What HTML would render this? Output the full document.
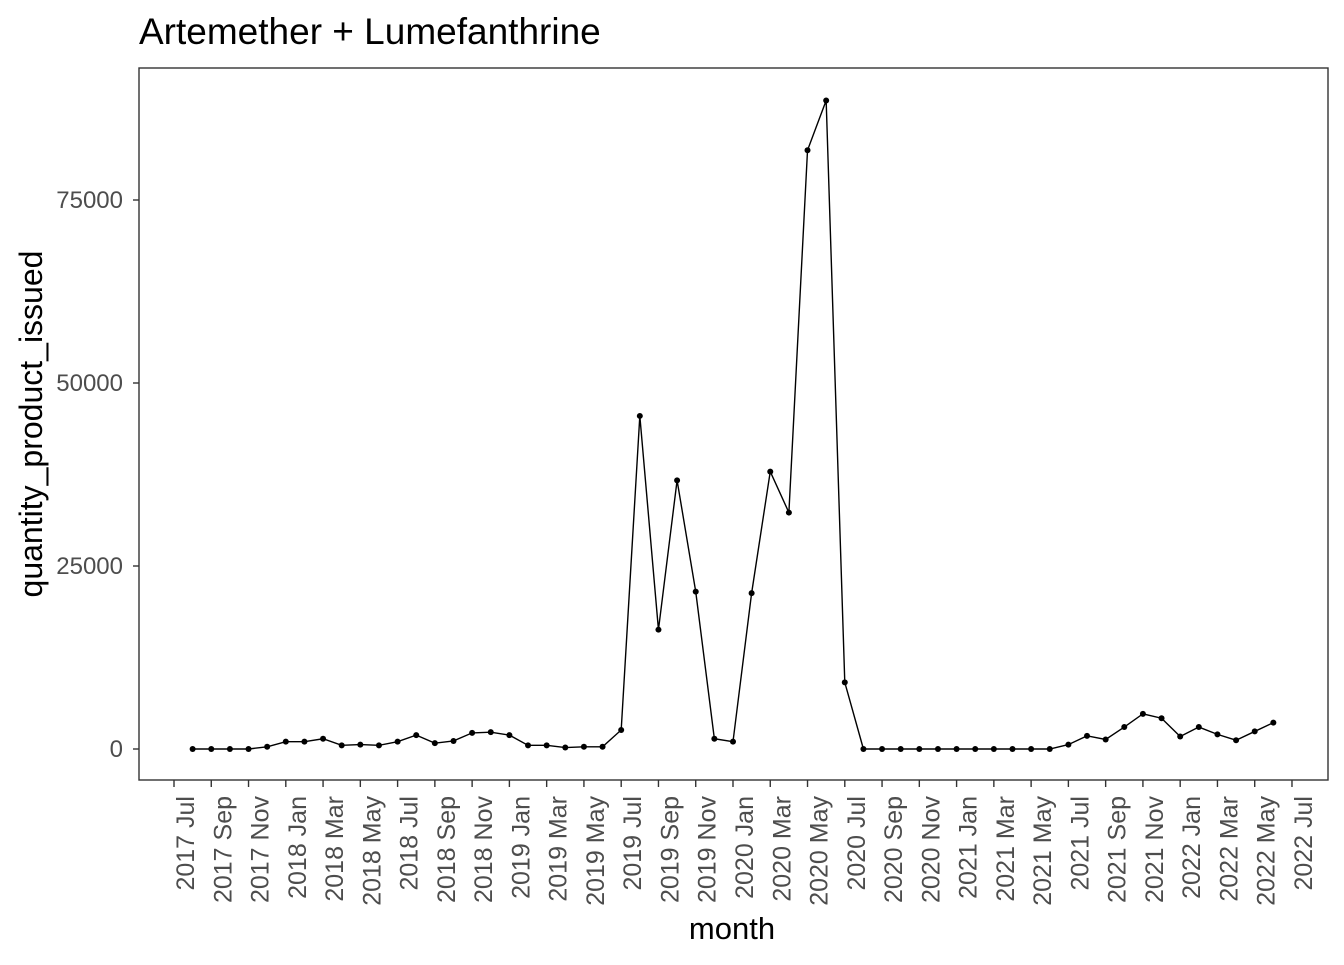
<!DOCTYPE html>
<html><head><meta charset="utf-8"><style>
body{margin:0;background:#fff;font-family:"Liberation Sans",sans-serif;}
</style></head><body>
<svg width="1344" height="960" xmlns="http://www.w3.org/2000/svg">
<text x="139" y="44" font-size="37" fill="#000">Artemether + Lumefanthrine</text>
<rect x="139" y="68" width="1189" height="712" fill="none" stroke="#333" stroke-width="1.4"/>
<g id="yaxis"></g>
<g id="xaxis"></g>
<g id="series"></g>
<text x="732" y="939" font-size="31" text-anchor="middle">month</text>
<text transform="translate(42,424) rotate(-90)" font-size="32" text-anchor="middle">quantity_product_issued</text>
</svg>
<script>
const yTicks=[0,25000,50000,75000];
const xTickLabels=["2017 Jul","2017 Sep","2017 Nov","2018 Jan","2018 Mar","2018 May","2018 Jul","2018 Sep","2018 Nov","2019 Jan","2019 Mar","2019 May","2019 Jul","2019 Sep","2019 Nov","2020 Jan","2020 Mar","2020 May","2020 Jul","2020 Sep","2020 Nov","2021 Jan","2021 Mar","2021 May","2021 Jul","2021 Sep","2021 Nov","2022 Jan","2022 Mar","2022 May","2022 Jul"];
// months since 2017 Jul, starting at 2017 Aug
const values=[0,0,0,0,300,1000,1000,1400,500,600,500,1000,1900,800,1100,2200,2300,1900,500,500,200,300,300,2600,45500,16300,36700,21500,1400,1000,21300,37900,32300,81800,88600,9100,0,0,0,0,0,0,0,0,0,0,0,600,1800,1300,3000,4800,4200,1700,3000,2000,1200,2400,3600];
const NS="http://www.w3.org/2000/svg";
const xScale=m=>174+18.633*m;
const yScale=v=>749-v*0.00732;
const yax=document.getElementById('yaxis'),xax=document.getElementById('xaxis'),ser=document.getElementById('series');
function mk(tag,attrs,parent){const e=document.createElementNS(NS,tag);for(const k in attrs)e.setAttribute(k,attrs[k]);parent.appendChild(e);return e;}
yTicks.forEach(v=>{
  const y=yScale(v);
  const t=mk('line',{x1:133,x2:139,y1:y,y2:y,stroke:'#333','stroke-width':1.4},yax);
  
  
  const l=mk('text',{x:123,y:y+8,'font-size':24,fill:'#4d4d4d','text-anchor':'end'},yax);
  l.textContent=v;
  
  
});
xTickLabels.forEach((lab,i)=>{
  const x=xScale(i*2);
  const t=mk('line',{x1:x,x2:x,y1:780,y2:787,stroke:'#333','stroke-width':1.4},xax);
  
  
  const l=mk('text',{transform:`translate(${x+20},796) rotate(-90)`,'font-size':25,fill:'#4d4d4d','text-anchor':'end'},xax);
  l.textContent=lab;
  
  
});
const pts=values.map((v,i)=>xScale(i+1)+','+yScale(v)).join(' ');
const pl=mk('polyline',{points:pts,fill:'none',stroke:'#000','stroke-width':1.4},ser);


values.forEach((v,i)=>{
  const c=mk('circle',{cx:xScale(i+1),cy:yScale(v),r:3,fill:'#000'},ser);
  
  
});
</script>
</body></html>
